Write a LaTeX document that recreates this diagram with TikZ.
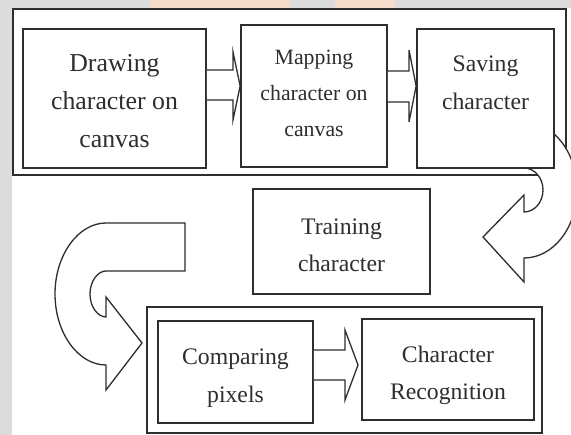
\documentclass[tikz,border=0pt]{standalone}
\usepackage{fontspec}
\setmainfont{Liberation Serif}
\usetikzlibrary{calc}
\definecolor{ink}{HTML}{2E2E2E}
\definecolor{bggray}{HTML}{DCDCDC}
\definecolor{wmark}{HTML}{F4DCCB}
\begin{document}
\begin{tikzpicture}[x=1pt,y=-1pt,
  boxnode/.style={draw=ink, line width=1.7pt, fill=white, inner sep=0pt},
  framenode/.style={draw=ink, line width=2pt, inner sep=0pt},
  txt/.style={inner sep=0pt, align=center, text=ink},
  fA/.style={font=\fontsize{25.8}{38}\selectfont},
  fB/.style={font=\fontsize{21.8}{36}\selectfont},
  fC/.style={font=\fontsize{23.7}{37.5}\selectfont},
  barrow/.style={draw=ink, line width=1.3pt, fill=white, line join=miter},
  carrow/.style={draw=ink, line width=1.3pt, fill=white, line join=miter}]
% background
\useasboundingbox (0,0) rectangle (571,435);
\fill[bggray] (0,0) rectangle (571,435);
\fill[wmark] (150,0) rectangle (290,8);
\fill[wmark] (335,0) rectangle (395,8);
\fill[white] (12,8) rectangle (571,435);
% helper y levels
\foreach \v in {70,71,100,102,350,380}
  \coordinate (h\v) at (0,\v);
\coordinate (hA) at (0,86);
\coordinate (hB) at (0,365);
% top frame
\node[framenode, minimum width=553pt, minimum height=166pt] (fr1) at (289.5,92) {};
% right curved arrow (drawn over frame, under box 3)
\draw[carrow] (470,122) -- (524,122)
  .. controls (553.3,122) and (577,152.4) .. (577,190)
  .. controls (577,227.6) and (553.3,258) .. (524,258)
  -- (524,282) -- (483,237) -- (524,195) -- (524,212)
  .. controls (534.5,212) and (543,202.2) .. (543,190)
  .. controls (543,177.8) and (534.5,168) .. (524,168)
  -- (470,168) -- cycle;
% top boxes
\node[boxnode, minimum width=183pt, minimum height=139pt] (b1) at (114.5,98.5) {};
\node[boxnode, minimum width=146pt, minimum height=142pt] (b2) at (314,96) {};
\node[boxnode, minimum width=137pt, minimum height=139pt] (b3) at (485.5,98.5) {};
\node[txt, fA] (t1) at ([yshift=-2.7pt]b1.center) {Drawing\\character on\\canvas};
\node[txt, fB] (t2) at ([yshift=2.5pt]b2.center) {Mapping\\character on\\canvas};
\node[txt, fC] (t3) at ([yshift=15.6pt]b3.center) {Saving\\character};
% block arrows top row
\draw[barrow] (b1.east |- h70) -- (233,70) -- (233,52) -- (b2.west |- hA)
  -- (233,120) -- (233,100) -- (b1.east |- h100);
\draw[barrow] (b2.east |- h71) -- (409,71) -- (409,50) -- (b3.west |- hA)
  -- (409,122) -- (409,102) -- (b2.east |- h102);
% training box
\node[boxnode, minimum width=177pt, minimum height=105pt] (b6) at (341.5,241.5) {};
\node[txt, fC] (t6) at ([yshift=-3.9pt]b6.center) {Training\\character};
% left curved arrow
\draw[carrow] (185,223) -- (106,223)
  .. controls (78.4,223) and (55,254.8) .. (55,294)
  .. controls (55,333.2) and (78.4,365) .. (106,365)
  -- (106,390) -- (142,343) -- (106,297) -- (106,317)
  .. controls (97.7,317) and (90,306.7) .. (90,294)
  .. controls (90,281.3) and (97.7,271) .. (106,271)
  -- (185,271) -- cycle;
% bottom frame and boxes
\node[framenode, fill=white, minimum width=395pt, minimum height=126pt] (fr2) at (344.5,370) {};
\node[boxnode, minimum width=155pt, minimum height=102pt] (b4) at (235.5,372) {};
\node[boxnode, minimum width=172pt, minimum height=101pt] (b5) at (448,369.5) {};
\node[txt, fC] (t4) at ([yshift=-6pt]b4.center) {Comparing\\pixels};
\node[txt, fC] (t5) at ([yshift=-6pt]b5.center) {Character\\Recognition};
\draw[barrow] (b4.east |- h350) -- (345,350) -- (345,330) -- (358,365)
  -- (345,400) -- (345,380) -- (b4.east |- h380);
\end{tikzpicture}
\end{document}
